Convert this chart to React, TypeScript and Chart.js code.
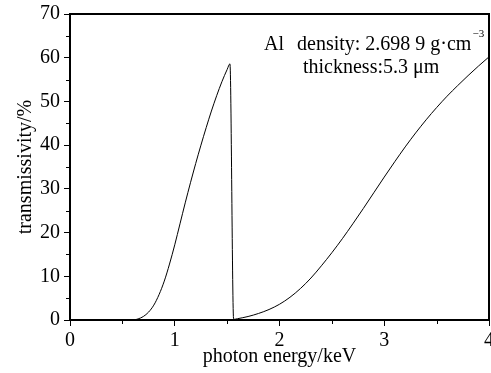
import React, { useEffect, useRef } from 'react';
import { Chart, registerables } from 'chart.js';

Chart.register(...registerables);

// photon energy (keV) and transmissivity (%)
const energyKeV = [
  0, 0.6, 0.65, 0.7, 0.75, 0.8, 0.85, 0.9, 0.95, 1.0, 1.05, 1.1, 1.15, 1.2, 1.25, 1.3, 1.35, 1.4, 1.45, 1.5, 1.527,
  1.562, 1.6, 1.7, 1.8, 1.9, 2.0, 2.1, 2.2, 2.3, 2.4, 2.5, 2.6, 2.7, 2.8, 2.9, 3.0, 3.1, 3.2, 3.3, 3.4, 3.5, 3.6,
  3.7, 3.8, 3.9, 4.0,
];
const transmissivity = [
  0, 0, 0.25, 0.8, 1.8, 3.4, 5.8, 8.9, 12.8, 17.2, 22.0, 26.8, 31.4, 35.8, 40.0, 44.0, 47.8, 51.3, 54.5, 57.3, 58.6,
  0.15, 0.3, 0.8, 1.5, 2.4, 3.6, 5.2, 7.2, 9.6, 12.4, 15.4, 18.6, 22.0, 25.5, 29.1, 32.7, 36.2, 39.6, 42.8, 45.8,
  48.6, 51.2, 53.6, 55.9, 58.1, 60.2,
];
const xMinorTicks = [0.5, 1.5, 2.5, 3.5];
const yMinorTicks = [5, 15, 25, 35, 45, 55, 65];

const xTitle = 'photon energy/keV';
const yTitle = 'transmissivity/%';
const noteElement = 'Al';
const noteDensity = 'density: 2.698 9 g·cm';
const noteDensityExp = '−3';
const noteThickness = 'thickness:5.3 μm';

const SERIF = "'Liberation Serif', 'Times New Roman', serif";

const framePlugin = {
  id: 'frameAndNotes',
  afterDraw(chart: any) {
    const { ctx, chartArea: a, scales } = chart;
    ctx.save();
    ctx.strokeStyle = '#000';
    ctx.lineWidth = 2;
    ctx.beginPath();
    ctx.moveTo(a.left, a.top);
    ctx.lineTo(a.right, a.top);
    ctx.lineTo(a.right, a.bottom);
    ctx.stroke();

    ctx.lineWidth = 1;
    ctx.beginPath();
    for (const v of xMinorTicks) {
      const px = Math.round(scales.x.getPixelForValue(v)) + 0.5;
      ctx.moveTo(px, a.bottom);
      ctx.lineTo(px, a.bottom + 4);
    }
    for (const v of yMinorTicks) {
      const py = Math.round(scales.y.getPixelForValue(v)) + 0.5;
      ctx.moveTo(a.left - 4, py);
      ctx.lineTo(a.left, py);
    }
    ctx.stroke();

    // annotation
    ctx.fillStyle = '#000';
    ctx.textBaseline = 'alphabetic';
    ctx.textAlign = 'left';
    ctx.font = `20px ${SERIF}`;
    ctx.fillText(noteElement, a.left + 194, a.top + 36);
    const dx = a.left + 227;
    ctx.fillText(noteDensity, dx, a.top + 36);
    const w = ctx.measureText(noteDensity).width;
    ctx.font = `11px ${SERIF}`;
    ctx.fillText(noteDensityExp, dx + w + 1, a.top + 23);
    ctx.font = `20px ${SERIF}`;
    ctx.fillText(noteThickness, a.left + 233, a.top + 59);
    ctx.restore();
  },
};

export default function App() {
  const ref = useRef<HTMLCanvasElement>(null);

  useEffect(() => {
    if (!ref.current) return;
    Chart.defaults.font.family = SERIF;
    Chart.defaults.color = '#000';
    const points = energyKeV.map((e, i) => ({ x: e, y: transmissivity[i] }));
    const chart = new Chart(ref.current, {
      type: 'scatter',
      data: {
        datasets: [
          {
            data: points,
            showLine: true,
            borderColor: '#000',
            borderWidth: 1,
            pointRadius: 0,
            cubicInterpolationMode: 'monotone',
            fill: false,
          },
        ],
      },
      options: {
        responsive: false,
        maintainAspectRatio: false,
        animation: false,
        layout: { padding: { top: 14, right: 2, left: 0, bottom: 0 } },
        plugins: { legend: { display: false }, tooltip: { enabled: false } },
        scales: {
          x: {
            type: 'linear',
            min: 0,
            max: 4,
            ticks: { stepSize: 1, font: { size: 20 }, color: '#000', padding: 3, maxRotation: 0 },
            grid: { drawOnChartArea: false, tickLength: 6, tickColor: '#000', tickWidth: 1 },
            border: { display: true, color: '#000', width: 2 },
            title: { display: true, text: xTitle, font: { size: 20 }, color: '#000', padding: { top: 0, bottom: 4 } },
            afterFit(scale: any) {
              scale.height = 53;
              scale.paddingLeft = 0;
              scale.paddingRight = 0;
            },
          },
          y: {
            type: 'linear',
            min: 0,
            max: 70,
            ticks: { stepSize: 10, font: { size: 20 }, color: '#000', padding: 4 },
            grid: { drawOnChartArea: false, tickLength: 6, tickColor: '#000', tickWidth: 1 },
            border: { display: true, color: '#000', width: 2 },
            title: { display: true, text: yTitle, font: { size: 20 }, color: '#000', padding: { top: 14, bottom: 4 } },
            afterFit(scale: any) {
              scale.width = 70;
              scale.paddingTop = 0;
              scale.paddingBottom = 0;
            },
          },
        },
      },
      plugins: [framePlugin],
    });
    return () => chart.destroy();
  }, []);

  return (
    <div style={{ position: 'fixed', left: 0, top: 0, width: 491, height: 373, background: '#fff' }}>
      <canvas ref={ref} width={491} height={373} style={{ display: 'block' }} />
    </div>
  );
}
